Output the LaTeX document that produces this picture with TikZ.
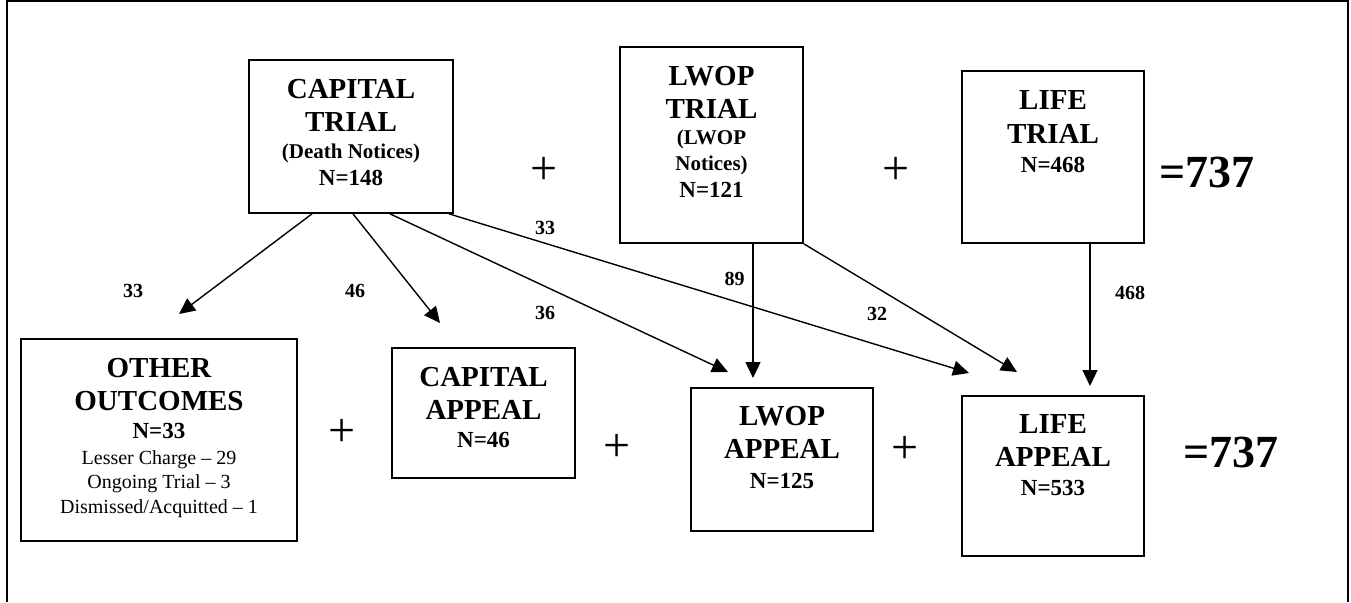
\documentclass[tikz,border=0pt]{standalone}
\usepackage{fontspec}
\setmainfont{Liberation Serif}
\usetikzlibrary{arrows.meta}
\tikzset{
  box/.style={draw, line width=1.7pt, rectangle, inner sep=0pt},
  big/.style={anchor=base, inner sep=0pt, font=\bfseries\fontsize{29}{29}\selectfont},
  sub/.style={anchor=base, inner sep=0pt, font=\bfseries\fontsize{21}{21}\selectfont},
  num/.style={anchor=base, inner sep=0pt, font=\bfseries\fontsize{23}{23}\selectfont},
  reg/.style={anchor=base, inner sep=0pt, font=\fontsize{20}{20}\selectfont},
  lab/.style={anchor=center, inner sep=0pt, font=\bfseries\fontsize{20}{20}\selectfont},
  eqs/.style={anchor=base, inner sep=0pt, font=\bfseries\fontsize{46}{46}\selectfont},
  plus/.style={anchor=center, inner sep=0pt, font=\fontsize{48}{48}\selectfont},
  arr/.style={line width=1.4pt, -{Triangle[length=16pt,width=15pt]}},
}
\begin{document}
\begin{tikzpicture}[x=1pt,y=-1pt]
\useasboundingbox (0,0) rectangle (1351,602);
% frame (open at bottom)
\draw[line width=1.8pt] (7,602) -- (7,1) -- (1348,1) -- (1348,602);

% boxes
\node[box, minimum width=204pt, minimum height=153pt] (capT) at (351,136.5) {};
\node[box, minimum width=183pt, minimum height=196pt] (lwopT) at (711.5,145) {};
\node[box, minimum width=182pt, minimum height=172pt] (lifeT) at (1053,157) {};
\node[box, minimum width=276pt, minimum height=202pt] (other) at (159,440) {};
\node[box, minimum width=183pt, minimum height=130pt] (capA) at (483.5,413) {};
\node[box, minimum width=182pt, minimum height=143pt] (lwopA) at (782,459.5) {};
\node[box, minimum width=182pt, minimum height=160pt] (lifeA) at (1053,476) {};

% capital trial text
\node[big] (ct1) at (351,98.3) {CAPITAL};
\node[big] (ct2) at (351,131.7) {TRIAL};
\node[sub] (ct3) at (351,158) {(Death Notices)};
\node[num] (ct4) at (351,185) {N=148};

% lwop trial text
\node[big] (lt1) at (711.5,85) {LWOP};
\node[big] (lt2) at (711.5,118) {TRIAL};
\node[sub] (lt3) at (711.5,144) {(LWOP};
\node[sub] (lt4) at (711.5,170) {Notices)};
\node[num] (lt5) at (711.5,197) {N=121};

% life trial text
\node[big] (ft1) at (1053,109) {LIFE};
\node[big] (ft2) at (1053,143) {TRIAL};
\node[num] (ft3) at (1053,172) {N=468};

% other outcomes text
\node[big] (ot1) at (159,377) {OTHER};
\node[big] (ot2) at (159,410) {OUTCOMES};
\node[num] (ot3) at (159,438) {N=33};
\node[reg] (ot4) at (159,464) {Lesser Charge -- 29};
\node[reg] (ot5) at (159,488) {Ongoing Trial -- 3};
\node[reg] (ot6) at (159,513) {Dismissed/Acquitted -- 1};

% capital appeal text
\node[big] (ca1) at (483.5,386) {CAPITAL};
\node[big] (ca2) at (483.5,419) {APPEAL};
\node[num] (ca3) at (483.5,447) {N=46};

% lwop appeal text
\node[big] (la1) at (782,425) {LWOP};
\node[big] (la2) at (782,458) {APPEAL};
\node[num] (la3) at (782,488) {N=125};

% life appeal text
\node[big] (fa1) at (1053,433) {LIFE};
\node[big] (fa2) at (1053,466) {APPEAL};
\node[num] (fa3) at (1053,495) {N=533};

% plus signs and totals
\node[plus] (p1) at (543.7,171) {+};
\node[plus] (p2) at (896,171) {+};
\node[plus] (p3) at (342,433) {+};
\node[plus] (p4) at (617,448) {+};
\node[plus] (p5) at (905,450) {+};
\node[eqs] (eq1) at (1207,187) {=737};
\node[eqs] (eq2) at (1231,467) {=737};

% arrow tips
\coordinate (t1) at (179,314);
\coordinate (t2) at (440,323);
\coordinate (t3) at (728,372);
\coordinate (t4) at (969,373);
\coordinate (t5) at (753,378);
\coordinate (t6) at (1017,372);
\coordinate (t7) at (1090,386);

% arrows
\draw[arr] ([xshift=-39pt]capT.south) -- (t1);
\draw[arr] ([xshift=2pt]capT.south) -- (t2);
\draw[arr] ([xshift=39pt]capT.south) -- (t3);
\draw[arr] ([xshift=98pt]capT.south) -- (t4);
\draw[arr] ([xshift=41.5pt]lwopT.south) -- (t5);
\draw[arr] (lwopT.south east) -- (t6);
\draw[arr] ([xshift=37pt]lifeT.south) -- (t7);

% arrow labels
\node[lab] (l1) at (133,290.5) {33};
\node[lab] (l2) at (355,290.5) {46};
\node[lab] (l3) at (545,313) {36};
\node[lab] (l4) at (545,227.5) {33};
\node[lab] (l5) at (734.5,278.5) {89};
\node[lab] (l6) at (877,313.5) {32};
\node[lab] (l7) at (1130,292.5) {468};
\end{tikzpicture}
\end{document}
